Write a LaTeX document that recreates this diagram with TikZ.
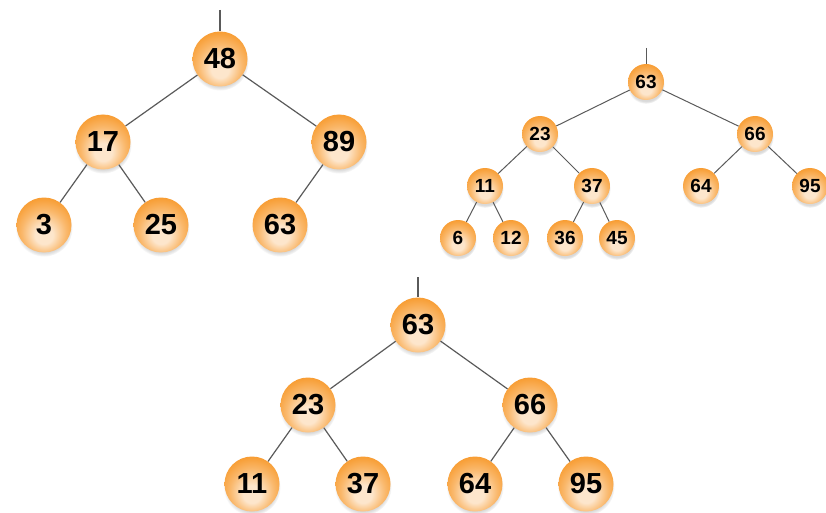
\documentclass[tikz,border=0pt]{standalone}
\usepackage{fontspec}
\setmainfont{Liberation Sans}
\usetikzlibrary{shadows}

\definecolor{ballrim}{HTML}{F7931E}
\definecolor{ballcore}{HTML}{FDE6CC}
\definecolor{linkgray}{HTML}{5A5A5A}

% orange ball, light spot low in the middle
\pgfdeclareradialshading{heapball}{\pgfpoint{0bp}{-11bp}}{%
  color(0bp)=(ballcore); color(8bp)=(ballcore); color(20bp)=(ballrim!55!ballcore);
  color(30bp)=(ballrim!90!ballcore); color(36bp)=(ballrim); color(50bp)=(ballrim)}

\tikzset{
  heap/.style={circle, inner sep=0pt, shading=heapball,
    circular drop shadow={shadow xshift=0pt, shadow yshift=-3pt, shadow scale=1.04, opacity=.3}},
  big/.style={heap, minimum size=55pt, font=\fontsize{29}{29}\selectfont\bfseries},
  small/.style={heap, minimum size=36pt, font=\fontsize{19}{19}\selectfont\bfseries},
  link/.style={draw=linkgray, line width=1.2pt}
}

\begin{document}
\begin{tikzpicture}[x=1pt, y=-1pt]
  \useasboundingbox (0,0) rectangle (826,513);

  % first tree
  \coordinate (atop) at (220,10);
  \node[big] (a48) at (220,59) {48};
  \node[big] (a17) at (103,142) {17};
  \node[big] (a89) at (339,142) {89};
  \node[big] (a3) at (44,225) {3};
  \node[big] (a25) at (161,225) {25};
  \node[big] (a63) at (280,225) {63};
  \foreach \p/\c in {atop/a48, a48/a17, a48/a89, a17/a3, a17/a25, a89/a63} {
    \draw[link] (\p) -- (\c);
  }

  % second tree
  \coordinate (btop) at (646,48);
  \node[small] (b63) at (646,82) {63};
  \node[small] (b23) at (540,134) {23};
  \node[small] (b66) at (755,134) {66};
  \node[small] (b11) at (485,186) {11};
  \node[small] (b37) at (592,186) {37};
  \node[small] (b64) at (701,186) {64};
  \node[small] (b95) at (810,186) {95};
  \node[small] (b6) at (458,238) {6};
  \node[small] (b12) at (511,238) {12};
  \node[small] (b36) at (565,238) {36};
  \node[small] (b45) at (617,238) {45};
  \foreach \p/\c in {btop/b63, b63/b23, b63/b66, b23/b11, b23/b37, b66/b64, b66/b95,
                     b11/b6, b11/b12, b37/b36, b37/b45} {
    \draw[link, line width=1pt] (\p) -- (\c);
  }

  % third tree
  \coordinate (ctop) at (418,277);
  \node[big] (c63) at (418,325) {63};
  \node[big] (c23) at (308,405) {23};
  \node[big] (c66) at (530,405) {66};
  \node[big] (c11) at (252,484) {11};
  \node[big] (c37) at (363,484) {37};
  \node[big] (c64) at (475,484) {64};
  \node[big] (c95) at (586,484) {95};
  \foreach \p/\c in {ctop/c63, c63/c23, c63/c66, c23/c11, c23/c37, c66/c64, c66/c95} {
    \draw[link] (\p) -- (\c);
  }
\end{tikzpicture}
\end{document}
